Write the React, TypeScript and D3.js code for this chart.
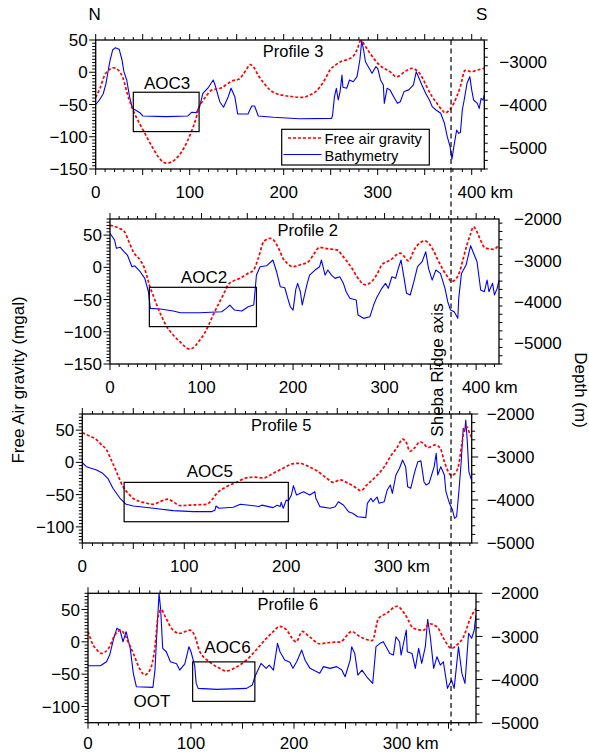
import * as d3 from "d3";

const FONT = "'Liberation Sans', Arial, Helvetica, sans-serif";

type Pt = [number, number];

// Profile 3 (km, mgal) and (km, m)
const profile3Gravity: Pt[] = [
  [0, -39], [4.5, -25], [9.7, -4], [15, 4.6], [19, 7], [24, 3.5], [29, -9], [34, -35], [39, -56],
  [45, -75], [51, -91], [56, -105], [61, -118], [67, -132], [75, -141], [82, -138], [88, -130],
  [94, -117], [101, -95], [106, -75], [110, -54], [114, -44], [118, -36], [123, -28], [128, -26],
  [134, -24], [140, -18], [146, -13], [152, -11], [157, -3], [161, 6], [164, 12], [168, 8],
  [173, -5], [179, -17], [185, -27], [192, -33], [200, -36], [210, -38], [220, -39], [228, -35],
  [234, -30], [239, -22], [245, -8], [249, 3], [255, 11], [260, 16], [268, 20], [274, 25],
  [278, 35], [282, 49], [287, 40], [292, 29], [302, 11], [313, 1], [320, -7], [329, 1], [336, 6],
  [343, 1], [348, -10], [352, -22], [358, -38], [363, -48], [368, -58], [372, -63], [376, -59],
  [379, -53], [384, -38], [388, -22], [393, 3], [400, 1], [405, 3], [413, 6],
];
const profile3Bathy: Pt[] = [
  [0, -4000], [4, -3895], [8, -3750], [11, -3507], [13, -3250], [15, -3005], [18, -2733], [21, -2678],
  [25, -2716], [28, -2965], [30, -3237], [33, -3430], [36, -3818], [39, -4088], [44, -4150],
  [47, -4190], [50, -4267], [75, -4283], [98, -4267], [102, -4181], [107, -4190], [111, -4012],
  [114, -3740], [120, -3600], [125, -3430], [127, -3546], [132, -3935], [136, -4065], [141, -3818],
  [144, -3623], [148, -3818], [151, -4220], [162, -4220], [166, -4035], [169, -4035], [173, -4267],
  [189, -4298], [217, -4330], [251, -4322], [252, -4244], [254, -3818], [256, -3623], [258, -3895],
  [260, -3700], [262, -3314], [263, -3600], [267, -3623], [270, -3430], [274, -3470], [278, -3353],
  [281, -2965], [283, -2516], [285, -2733], [287, -3005], [290, -3120], [294, -3275], [298, -3120],
  [300, -3160], [303, -3430], [306, -3546], [307, -3973], [310, -3623], [313, -3660], [317, -3818],
  [321, -3973], [324, -3935], [328, -3700], [333, -3660], [338, -3546], [341, -3237], [344, -3390],
  [347, -3546], [351, -3740], [355, -3895], [358, -4050], [362, -4128], [367, -4205], [371, -4437],
  [374, -4748], [377, -4981], [379, -5274], [381, -4981], [384, -4593], [386, -4670], [388, -4650],
  [390, -4128], [392, -3895], [395, -3507], [398, -3353], [400, -3660], [402, -3895], [406, -3973],
  [408, -4090], [410, -3857], [412, -3900], [413.4, -3780],
];

// Profile 2
const profile2Gravity: Pt[] = [
  [0, 65], [11, 60], [16, 55], [20, 42], [25.5, 24], [33, 11], [37, 1], [40, -12], [43, -27.5],
  [47, -43], [51, -58], [56, -75], [62, -92], [69, -105], [76, -115], [82, -123], [87, -127],
  [93, -122], [98, -113], [103, -103], [107, -92], [113, -73], [120, -53], [125, -39], [129, -27],
  [135, -21], [142, -17], [150, -10], [157, -4], [162, 14], [168, 40], [175, 45], [180, 40],
  [185, 27], [189, 14], [194, 6], [199, 1], [208, 4], [217, 9], [222, 19], [229, 31], [237, 29],
  [248, 27], [254, 18], [259, 9], [265, -3], [270, -15], [279, -27], [286, -22], [292, -10],
  [297, 4], [306, 11], [317, 22], [322, 16], [326, 10], [333, 29], [344, 41], [353, 27], [358, 12],
  [364, -4], [369, -15], [373, -22], [378, -18], [382, -7], [386, 14], [390, 35], [394, 52],
  [397, 63], [401, 55], [404, 45], [410, 30], [419, 28], [425, 35],
];
const profile2Bathy: Pt[] = [
  [0, -2346], [5, -2507], [7, -2708], [11, -2680], [15, -2780], [19, -2870], [24, -3152], [27, -3130],
  [33, -3273], [38, -3433], [42, -3756], [44, -4157], [55, -4174], [69, -4222], [77, -4263],
  [98, -4263], [122, -4239], [127, -4157], [131, -4077], [136, -4198], [144, -4222], [151, -4118],
  [157, -4077], [158, -3860], [160, -3353], [164, -3152], [171, -3130], [178, -2990], [182, -3273],
  [186, -3635], [191, -3660], [194, -3900], [197, -4118], [200, -4198], [203, -3700], [205, -3553],
  [208, -3756], [210, -4077], [215, -3595], [218, -3353], [224, -3232], [229, -3152], [231, -2990],
  [235, -3353], [238, -3232], [242, -3353], [246, -3433], [251, -3393], [255, -3553], [258, -3756],
  [262, -3915], [269, -3955], [271, -4319], [277, -4398], [284, -4358], [288, -4077], [291, -3915],
  [297, -3674], [301, -3553], [304, -3674], [308, -3393], [312, -3433], [315, -3191], [318, -2990],
  [321, -3393], [324, -3795], [328, -3835], [332, -3514], [336, -3152], [341, -3031], [345, -2790],
  [348, -3191], [352, -3474], [356, -3232], [361, -3313], [366, -3674], [369, -3997], [372, -4198],
  [376, -4238], [380, -4398], [381, -3915], [384, -3313], [389, -3111], [394, -2645], [398, -2870],
  [401, -3031], [405, -3715], [409, -3756], [412, -3474], [414, -3756], [418, -3553], [420, -3835],
  [423, -3674], [425, -3474],
];

// Profile 5
const profile5Gravity: Pt[] = [
  [0, 46], [7, 41], [14, 35], [19, 27], [24, 19], [28, 5], [32, -9], [36, -24], [40, -38], [45, -48],
  [50, -56], [55, -60], [60, -62], [70, -65], [76, -61], [84, -57], [89, -61], [96, -67], [109, -66],
  [122, -65], [127, -58], [132, -48], [141, -38], [151, -31], [161, -24], [168, -23], [178, -24],
  [187, -17], [197, -9], [207, -2], [213, -1.5], [220, -5], [230, -13], [240, -25], [246, -31],
  [253, -27], [259, -31], [269, -40], [273, -44], [279, -35], [289, -20], [296, -7], [302, 9],
  [309, 24], [314, 36], [318, 30], [321, 17], [326, 23], [331, 32], [334, 30], [339, 23], [346, 27],
  [351, 22], [355, 1], [362, -20], [365, -18], [369, -4], [372, 27], [375, 53], [377, 55], [380, 44],
  [382, 38],
];
const profile5Bathy: Pt[] = [
  [0, -3132], [4, -3225], [14, -3302], [20, -3380], [25, -3495], [30, -3728], [37, -3960], [43, -4100],
  [50, -4140], [70, -4193], [89, -4248], [109, -4270], [127, -4270], [130, -4240], [131, -4140],
  [134, -4193], [148, -4170], [155, -4100], [168, -4132], [173, -4150], [176, -4120], [187, -4178],
  [191, -4120], [194, -4150], [195, -4053], [197, -4193], [200, -4000], [202, -4023], [205, -3884],
  [207, -3667], [210, -3884], [217, -3807], [223, -3884], [228, -3807], [229, -3960], [233, -4155],
  [243, -4193], [248, -4155], [251, -4040], [256, -4116], [261, -4272], [265, -4310], [270, -4388],
  [278, -4410], [279.5, -4077], [283, -3960], [285, -4040], [289, -3930], [291, -4077], [296, -4040],
  [299, -3767], [302, -3651], [304, -3845], [307.5, -3419], [311, -3263], [314, -3070], [317, -3225],
  [319, -3690], [322, -3728], [326, -3341], [329, -3109], [332, -3090], [335, -3574], [337, -3651],
  [340, -3612], [343.5, -3341], [345, -3225], [347, -2914], [348.5, -3419], [351.5, -3225],
  [355, -3419], [356.5, -3807], [360, -4077], [363, -4233], [365, -4426], [367, -4388],
  [369.5, -3728], [371.5, -3109], [373.5, -2333], [375, -2410], [376, -2140], [377.5, -2643],
  [379, -3341], [381, -3496], [382, -3550],
];

// Profile 6
const profile6Gravity: Pt[] = [
  [0, 16], [5, -5], [9, -13], [13, -18], [20, -10], [26, 10], [32, 18], [36, 10], [39, 0], [44, -18],
  [50, -41], [55, -51], [60, -44], [65, -8], [68, 39], [71, 50], [75, 39], [81, 21], [89, 13],
  [99, 18], [104, 8], [108, -13], [118, -31], [128, -41], [134, -45], [144, -39], [154, -28],
  [163, -13], [173, 5], [180, 16], [186, 24], [193, 18], [198, 6], [202, 0], [208, 16], [215, 8],
  [225, -3], [235, -1], [245, 0], [256, 16], [264, 8], [276, 2], [282, 36], [290, 44], [300, 55],
  [308, 42], [316, 21], [326, 18], [331, 28], [339, 23], [345, 6], [353, -10], [358, -5], [364, 6],
  [372, 39], [377, 52],
];
const profile6Bathy: Pt[] = [
  [0, -3680], [12, -3680], [18, -3587], [21, -3432], [25, -3044], [28, -2812], [31, -2850], [34, -3123],
  [37, -2890], [41, -3276], [44, -3856], [47, -4167], [63, -4181], [65, -3780], [67, -2851], [69, -2000],
  [70.6, -2387], [72.5, -3276], [76, -3355], [80, -3587], [86, -3634], [89, -3780], [94, -3634],
  [98, -3238], [100, -3355], [103.6, -3680], [105, -4088], [107, -4204], [125, -4228], [154, -4204],
  [159.5, -4128], [162, -3935], [165, -3780], [168, -3626], [173, -3741], [176, -3664], [180, -3780],
  [184, -3160], [186.4, -3355], [191, -3548], [196, -3600], [199, -3740], [202.6, -3587],
  [207.5, -3316], [210.7, -3548], [215.5, -3740], [225, -3856], [228.6, -3700], [235, -3740],
  [241.5, -3700], [246.4, -3780], [249.6, -3935], [254.5, -3548], [256, -3238], [259, -3394],
  [262, -3896], [266, -3780], [270.6, -3935], [276.4, -4088], [279.6, -3238], [283.5, -3160],
  [286.7, -3122], [293, -3394], [296.5, -3432], [299, -3007], [302.5, -3123], [304, -3432],
  [309, -2851], [310, -3355], [314.6, -3394], [317.8, -3740], [321, -3276], [324, -3626],
  [327.5, -3238], [329.8, -2603], [332.3, -3007], [335.6, -3740], [338.8, -3470], [342, -3664],
  [345, -3587], [349, -4204], [353, -4012], [355.5, -4204], [359.7, -3238], [363, -3856],
  [366, -4088], [369.5, -2928], [372.5, -3044], [375, -2851], [376.6, -2503],
];

const ridgeAxisKm = 378; // on profile 3

const panels = [
  {
    id: "p3", title: "Profile 3", titleKm: 210, left: 95.7, right: 484.3, top: 40, bottom: 169,
    kmMax: 413.4, gDom: [-150, 50], dDom: [-5500, -2500],
    gLabels: [50, 0, -50, -100, -150], dLabels: [-3000, -4000, -5000], kmLabels: [0, 100, 200, 300, 400],
    grav: profile3Gravity, bathy: profile3Bathy,
    aoc: { x0: 40, x1: 110, label: "AOC3", lx: 76, ly: -26.4 },
  },
  {
    id: "p2", title: "Profile 2", titleKm: 216, left: 110, right: 499, top: 219, bottom: 364,
    kmMax: 425, gDom: [-150, 75], dDom: [-5500, -2000],
    gLabels: [50, 0, -50, -100, -150], dLabels: [-2000, -3000, -4000, -5000], kmLabels: [0, 100, 200, 300, 400],
    grav: profile2Gravity, bathy: profile2Bathy,
    aoc: { x0: 43, x1: 160, label: "AOC2", lx: 102.7, ly: -24.8 },
  },
  {
    id: "p5", title: "Profile 5", titleKm: 195, left: 82.3, right: 471.7, top: 414, bottom: 543,
    kmMax: 381.8, gDom: [-125, 75], dDom: [-5000, -2000],
    gLabels: [50, 0, -50, -100], dLabels: [-2000, -3000, -4000, -5000], kmLabels: [0, 100, 200, 300],
    grav: profile5Gravity, bathy: profile5Bathy,
    aoc: { x0: 41, x1: 202, label: "AOC5", lx: 125, ly: -22 },
  },
  {
    id: "p6", title: "Profile 6", titleKm: 194, left: 88, right: 476, top: 593.3, bottom: 722.7,
    kmMax: 376.7, gDom: [-125, 75], dDom: [-5000, -2000],
    gLabels: [50, 0, -50, -100], dLabels: [-2000, -3000, -4000, -5000], kmLabels: [0, 100, 200, 300],
    grav: profile6Gravity, bathy: profile6Bathy,
    aoc: { x0: 101.6, x1: 162, label: "AOC6", lx: 135.4, ly: -16.8 },
  },
];

const fmt = (v: number) => (v < 0 ? "\u2212" + Math.abs(v) : String(v));

function Panel({ p }: { p: any }) {
  const x = d3.scaleLinear().domain([0, p.kmMax]).range([p.left, p.right]);
  const yg = d3.scaleLinear().domain(p.gDom).range([p.bottom, p.top]);
  const yd = d3.scaleLinear().domain(p.dDom).range([p.bottom, p.top]);
  const gLine = d3.line<Pt>().x(d => x(d[0])).y(d => yg(d[1])).curve(d3.curveMonotoneX);
  const dLine = d3.line<Pt>().x(d => x(d[0])).y(d => yd(d[1]));

  const kmTicks = d3.range(0, p.kmMax + 0.01, 10);
  const gTicks = d3.range(Math.ceil(p.gDom[0] / 5) * 5, p.gDom[1] + 0.01, 5);
  const dTicks = d3.range(p.dDom[0], p.dDom[1] + 1, 200);
  const last = p.kmLabels[p.kmLabels.length - 1];
  const labelY = Math.min(p.bottom + 29, 749);

  return (
    <g>
      <defs>
        <clipPath id={"clip-" + p.id}>
          <rect x={p.left} y={p.top} width={p.right - p.left} height={p.bottom - p.top} />
        </clipPath>
      </defs>
      <g clipPath={`url(#clip-${p.id})`}>
        <path d={dLine(p.bathy) || ""} fill="none" stroke="#0000ff" strokeWidth={1.1} strokeLinejoin="round" />
        <path d={gLine(p.grav) || ""} fill="none" stroke="#ff0000" strokeWidth={1.7} strokeDasharray="3,2" />
      </g>
      <rect x={x(p.aoc.x0)} y={yg(-31)} width={x(p.aoc.x1) - x(p.aoc.x0)} height={yg(-92) - yg(-31)}
        fill="none" stroke="#000" strokeWidth={1.2} />
      <text x={x(p.aoc.lx)} y={yg(p.aoc.ly)} textAnchor="middle" fontSize={17}>{p.aoc.label}</text>
      <text x={x(p.titleKm)} y={p.top + 17} textAnchor="middle" fontSize={16.5}>{p.title}</text>

      {kmTicks.map((k: number) => {
        const len = k % 50 === 0 ? 6 : 3;
        return (
          <g key={"k" + k}>
            <line x1={x(k)} x2={x(k)} y1={p.bottom} y2={p.bottom + len} stroke="#000" />
            <line x1={x(k)} x2={x(k)} y1={p.top} y2={p.top - len} stroke="#000" />
          </g>
        );
      })}
      {gTicks.map((g: number) => {
        const len = g % 50 === 0 ? 6.5 : 3.5;
        return <line key={"g" + g} x1={p.left} x2={p.left - len} y1={yg(g)} y2={yg(g)} stroke="#000" />;
      })}
      {dTicks.map((d: number) => {
        const len = d % 1000 === 0 ? 6.5 : 3.5;
        return <line key={"d" + d} x1={p.right} x2={p.right + len} y1={yd(d)} y2={yd(d)} stroke="#000" />;
      })}
      <rect x={p.left} y={p.top} width={p.right - p.left} height={p.bottom - p.top} fill="none" stroke="#000" strokeWidth={1.3} />

      {p.kmLabels.map((k: number) =>
        k === last ? (
          <text key={"kl" + k} x={x(k) - 14.2} y={labelY} fontSize={17}>{k + " km"}</text>
        ) : (
          <text key={"kl" + k} x={x(k)} y={labelY} textAnchor="middle" fontSize={17}>{k}</text>
        )
      )}
      {p.gLabels.map((g: number) => (
        <text key={"gl" + g} x={p.left - 8} y={yg(g)} dy="0.36em" textAnchor="end" fontSize={17}>{fmt(g)}</text>
      ))}
      {p.dLabels.map((d: number) => (
        <text key={"dl" + d} x={p.right + 15} y={yd(d)} dy="0.36em" textAnchor="start" fontSize={17}>{fmt(d)}</text>
      ))}
    </g>
  );
}

export default function App() {
  const p0 = panels[0];
  const x0 = d3.scaleLinear().domain([0, p0.kmMax]).range([p0.left, p0.right]);
  const ridgeX = x0(ridgeAxisKm);

  const p6 = panels[3];
  const x6 = d3.scaleLinear().domain([0, p6.kmMax]).range([p6.left, p6.right]);
  const y6 = d3.scaleLinear().domain(p6.gDom).range([p6.bottom, p6.top]);

  return (
    <svg width={589} height={754} style={{ position: "absolute", left: 0, top: 0, background: "#fff" }}
      fontFamily={FONT} fill="#000">
      <rect x={0} y={0} width={589} height={754} fill="#fff" />
      {panels.map(p => <Panel key={p.id} p={p} />)}

      <line x1={ridgeX} x2={ridgeX} y1={40} y2={731} stroke="#000" strokeWidth={1.2} strokeDasharray="5,3.5" />
      <text transform={`translate(${ridgeX - 8.5},370) rotate(-90)`} textAnchor="middle" fontSize={17}>Sheba Ridge axis</text>

      <text x={94.7} y={20} textAnchor="middle" fontSize={17}>N</text>
      <text x={481.7} y={20} textAnchor="middle" fontSize={17}>S</text>

      <text transform="translate(23.5,380) rotate(-90)" textAnchor="middle" fontSize={17}>Free Air gravity (mgal)</text>
      <text transform="translate(575,390) rotate(90)" textAnchor="middle" fontSize={17}>Depth (m)</text>

      <g>
        <rect x={281.7} y={129.3} width={147.6} height={35.7} fill="#fff" stroke="#000" strokeWidth={1.2} />
        <line x1={288} x2={321.5} y1={138} y2={138} stroke="#ff0000" strokeWidth={1.7} strokeDasharray="3,2" />
        <text x={324.5} y={143.5} fontSize={14.6}>Free air gravity</text>
        <line x1={283.5} x2={321.5} y1={154.5} y2={154.5} stroke="#0000ff" strokeWidth={1.1} />
        <text x={324.5} y={160.5} fontSize={14.6}>Bathymetry</text>
      </g>

      <text x={x6(62)} y={y6(-101)} textAnchor="middle" fontSize={17}>OOT</text>
    </svg>
  );
}
